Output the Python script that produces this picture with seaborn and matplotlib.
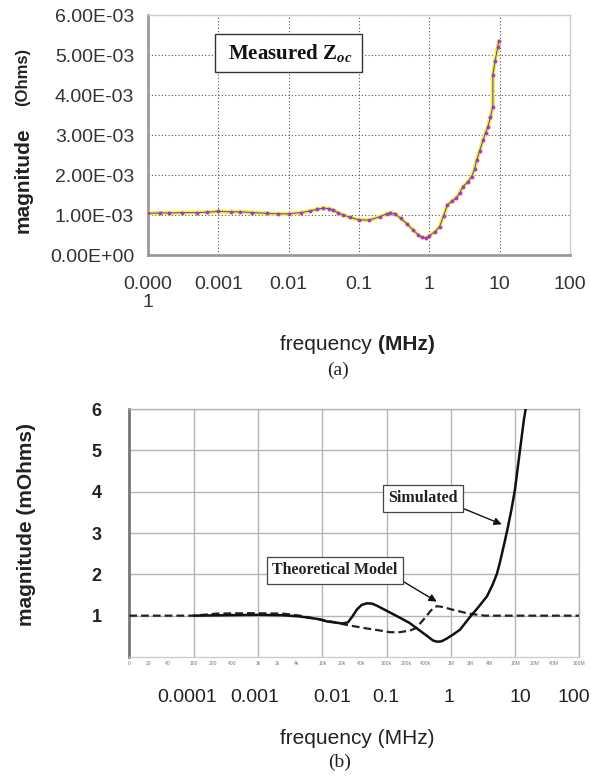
import numpy as np
import pandas as pd
import matplotlib
matplotlib.use("Agg")
import matplotlib.pyplot as plt
import matplotlib.transforms as mtransforms
import seaborn as sns

# ---------------- data ----------------
# (a) measured Zoc, frequency in MHz, magnitude in mOhms
meas_freq = [0.0001, 0.00015, 0.0002, 0.0003, 0.0005, 0.0007, 0.001, 0.0015, 0.002, 0.003,
             0.005, 0.007, 0.01, 0.015, 0.02, 0.025, 0.031, 0.037, 0.043, 0.05,
             0.06, 0.075, 0.1, 0.14, 0.2, 0.25, 0.28, 0.33, 0.39, 0.48,
             0.59, 0.7, 0.78, 0.9, 0.98, 1.2, 1.4, 1.6, 1.8, 2.1,
             2.4, 2.7, 3.0, 3.5, 4.0, 4.4, 4.7, 5.2, 5.8, 6.3,
             6.8, 7.4, 8.0, 8.0, 8.6, 9.4, 9.7]
meas_mag_mohm = [1.04, 1.05, 1.05, 1.06, 1.06, 1.07, 1.09, 1.08, 1.08, 1.06,
                 1.04, 1.03, 1.03, 1.06, 1.10, 1.14, 1.17, 1.16, 1.12, 1.06,
                 1.00, 0.94, 0.88, 0.87, 0.96, 1.03, 1.06, 1.02, 0.92, 0.78,
                 0.62, 0.50, 0.44, 0.43, 0.47, 0.58, 0.71, 0.98, 1.25, 1.35,
                 1.42, 1.55, 1.71, 1.82, 1.96, 2.15, 2.37, 2.60, 2.87, 3.05,
                 3.20, 3.45, 3.71, 4.50, 4.85, 5.20, 5.35]

top_yticks = [0, 1e-3, 2e-3, 3e-3, 4e-3, 5e-3, 6e-3]
top_xticks = [0.0001, 0.001, 0.01, 0.1, 1, 10, 100]
top_xlabels = ["0.000\n1", "0.001", "0.01", "0.1", "1", "10", "100"]

# (b) simulated and theoretical model, frequency in MHz, magnitude in mOhms
sim_freq = [1e-4, 3.1e-4, 1e-3, 2.45e-3, 4.5e-3, 0.0085, 0.0119, 0.0165, 0.0211, 0.0252,
            0.0295, 0.0347, 0.041, 0.0497, 0.06, 0.0711, 0.1, 0.162, 0.23, 0.298,
            0.41, 0.529, 0.61, 0.72, 0.873, 1.1, 1.39, 1.99, 2.6, 3.66,
            4.5, 5.23, 5.83, 6.8, 7.75, 8.8, 9.95, 11.9, 13.7, 15.3]
sim_mag = [1.0, 1.01, 1.02, 1.01, 0.98, 0.92, 0.86, 0.83, 0.81, 0.84,
           0.98, 1.15, 1.26, 1.30, 1.29, 1.24, 1.12, 0.95, 0.82, 0.69,
           0.53, 0.40, 0.37, 0.38, 0.45, 0.55, 0.66, 0.97, 1.18, 1.47,
           1.76, 2.02, 2.30, 2.75, 3.15, 3.58, 4.05, 5.00, 5.74, 6.20]

theo_freq = [1e-5, 3e-5, 1e-4, 2.3e-4, 7.5e-4, 2.45e-3, 4.5e-3, 0.0085, 0.0147, 0.025,
             0.0497, 0.08, 0.113, 0.16, 0.232, 0.29, 0.332, 0.4, 0.475, 0.54,
             0.61, 0.75, 1.03, 1.4, 1.89, 3.36, 10, 100]
theo_mag = [1.0, 1.0, 1.0, 1.05, 1.06, 1.05, 1.0, 0.92, 0.85, 0.77,
            0.69, 0.64, 0.60, 0.60, 0.64, 0.70, 0.81, 0.95, 1.10, 1.19,
            1.23, 1.21, 1.15, 1.10, 1.05, 1.0, 1.0, 1.0]

bot_major_pos = [1e-5, 1e-4, 1e-3, 1e-2, 1e-1, 1, 10, 100]
bot_major_lab = ["0", "100", "1k", "10k", "100k", "1M", "10M", "100M"]
bot_minor_pos = [2e-5, 4e-5, 2e-4, 4e-4, 2e-3, 4e-3, 2e-2, 4e-2, 2e-1, 4e-1, 2, 4, 20, 40]
bot_minor_lab = ["20", "40", "200", "400", "2k", "4k", "20k", "40k", "200k", "400k",
                 "2M", "4M", "20M", "40M"]
bot_yticks = [1, 2, 3, 4, 5, 6]
big_labels = ["0.0001", "0.001", "0.01", "0.1", "1", "10", "100"]
big_label_pos = [7.9e-5, 9.0e-4, 0.0142, 0.098, 0.936, 11.9, 83]

# ---------------- style ----------------
sns.set_style("white")
plt.rcParams["font.family"] = ["Liberation Sans", "DejaVu Sans"]
plt.rcParams["mathtext.fontset"] = "custom"
plt.rcParams["mathtext.rm"] = "Liberation Serif:bold"
plt.rcParams["mathtext.it"] = "Liberation Serif:bold:italic"

W, H = 591, 777
fig = plt.figure(figsize=(W / 100, H / 100), dpi=100)
fig.patch.set_facecolor("white")

# ---------------- (a) ----------------
ax1 = fig.add_axes([148 / W, 1 - 255 / H, 422 / W, 240 / H])
ax1.set_xscale("log")
ax1.set_xlim(1e-4, 100)
ax1.set_ylim(0, 6e-3)

df_a = pd.DataFrame({"f": meas_freq, "z": np.array(meas_mag_mohm) * 1e-3})
sns.lineplot(data=df_a, x="f", y="z", ax=ax1, estimator=None, sort=False,
             color="#ffee33", lw=3.0, zorder=3)
sns.scatterplot(data=df_a, x="f", y="z", ax=ax1, color="#d030c8", s=8,
                linewidth=0, zorder=4)
sns.lineplot(data=df_a, x="f", y="z", ax=ax1, estimator=None, sort=False,
             color="#4a5cc0", lw=0.8, zorder=5)

ax1.set_xticks(top_xticks)
ax1.set_xticklabels(top_xlabels, fontsize=14, color="#333333", linespacing=1.1)
ax1.xaxis.set_minor_locator(matplotlib.ticker.NullLocator())
ax1.set_yticks(top_yticks)
ax1.set_yticklabels([f"{v:.2E}" for v in top_yticks], fontsize=14, color="#333333")
ax1.tick_params(axis="x", length=5, width=1, color="#999999", pad=10, direction="out")
ax1.tick_params(axis="y", length=7, width=1, color="#999999", pad=3, direction="out")
ax1.grid(True, color="#555555", lw=0.8, linestyle=(0, (1, 2)))
for s in ["left", "bottom"]:
    ax1.spines[s].set_color("#9a9a9a")
    ax1.spines[s].set_linewidth(2)
for s in ["top", "right"]:
    ax1.spines[s].set_color("#cccccc")
    ax1.spines[s].set_linewidth(1)
ax1.set_xlabel("")
ax1.set_ylabel("")

ax1.text(0.333, 0.842, r" Measured Z$_{\mathit{oc}}$ ", transform=ax1.transAxes,
         ha="center", va="center", fontsize=15, fontweight="bold",
         family="Liberation Serif", color="#111111", zorder=6,
         bbox=dict(boxstyle="square,pad=0.4", fc="white", ec="#333333", lw=1))

fig.text(23 / W, 1 - 180 / H, "magnitude", rotation=90, ha="center", va="center",
         fontsize=15, fontweight="bold", color="#222222")
fig.text(23 / W, 1 - 77 / H, "(Ohms)", rotation=90, ha="center", va="center",
         fontsize=12, fontweight="bold", color="#222222")
fig.text(378 / W, 1 - 345 / H, "frequency ", ha="right", va="center",
         fontsize=15, color="#222222")
fig.text(378 / W, 1 - 345 / H, "(MHz)", ha="left", va="center",
         fontsize=15, fontweight="bold", color="#222222")
fig.text(338 / W, 1 - 370 / H, "(a)", ha="center", va="center",
         fontsize=14, family="Liberation Serif", color="#222222")

# ---------------- (b) ----------------
ax2 = fig.add_axes([129.3 / W, 1 - 657 / H, 450.1 / W, 248 / H])
ax2.set_xscale("log")
ax2.set_xlim(1e-5, 100)
ax2.set_ylim(0, 6)

df_t = pd.DataFrame({"f": theo_freq, "z": theo_mag})
df_s = pd.DataFrame({"f": sim_freq, "z": sim_mag})
sns.lineplot(data=df_t, x="f", y="z", ax=ax2, estimator=None, sort=False,
             color="#222222", lw=1.6, dashes=False, zorder=4)
ax2.lines[-1].set_linestyle((0, (3.5, 1.8)))
sns.lineplot(data=df_s, x="f", y="z", ax=ax2, estimator=None, sort=False,
             color="#111111", lw=1.8, zorder=5)

ax2.set_xticks(bot_major_pos)
ax2.set_xticklabels(bot_major_lab, fontsize=3.6, color="#777777")
ax2.set_xticks(bot_minor_pos, minor=True)
ax2.set_xticklabels(bot_minor_lab, minor=True, fontsize=3.6, color="#777777")
ax2.tick_params(axis="x", which="both", length=2, width=0.6, color="#aaaaaa", pad=1)
ax2.set_yticks(bot_yticks)
ax2.set_yticklabels([str(v) for v in bot_yticks], fontsize=13, fontweight="bold",
                    color="#222222")
ax2.tick_params(axis="y", length=0, pad=20)
ax2.grid(True, which="major", color="#b5b5b5", lw=1)
ax2.spines["left"].set_color("#777777")
ax2.spines["left"].set_linewidth(2)
ax2.spines["bottom"].set_color("#cccccc")
ax2.spines["bottom"].set_linewidth(1)
for s in ["top", "right"]:
    ax2.spines[s].set_color("#b5b5b5")
    ax2.spines[s].set_linewidth(1)
ax2.set_xlabel("")
ax2.set_ylabel("")

box = dict(boxstyle="square,pad=0.35", fc="white", ec="#444444", lw=0.9)
ax2.annotate("Simulated", xy=(6.2, 3.21), xytext=(0.37, 3.84), textcoords="data",
             ha="center", va="center", fontsize=11.5, fontweight="bold",
             family="Liberation Serif", color="#222222", bbox=box, zorder=6,
             arrowprops=dict(arrowstyle="-|>", color="#111111", lw=1,
                             mutation_scale=11, relpos=(1, 0), shrinkA=0, shrinkB=0))
ax2.annotate("Theoretical Model", xy=(0.604, 1.34), xytext=(0.0158, 2.10),
             textcoords="data", ha="center", va="center", fontsize=11.5,
             fontweight="bold", family="Liberation Serif", color="#222222",
             bbox=box, zorder=6,
             arrowprops=dict(arrowstyle="-|>", color="#111111", lw=1,
                             mutation_scale=11, relpos=(1, 0), shrinkA=0, shrinkB=0))

trans = mtransforms.blended_transform_factory(ax2.transData, fig.transFigure)
for lab, pos in zip(big_labels, big_label_pos):
    ax2.text(pos, 1 - 698 / H, lab, transform=trans, ha="center", va="center",
             fontsize=14, color="#222222", clip_on=False)

fig.text(27 / W, 1 - 524 / H, "magnitude (mOhms)", rotation=90, ha="center",
         va="center", fontsize=15, fontweight="bold", color="#222222")
fig.text(357 / W, 1 - 739 / H, "frequency (MHz)", ha="center", va="center",
         fontsize=15, color="#222222")
fig.text(340 / W, 1 - 762 / H, "(b)", ha="center", va="center",
         fontsize=14, family="Liberation Serif", color="#222222")

fig.savefig("out.png", dpi=100, facecolor="white")
